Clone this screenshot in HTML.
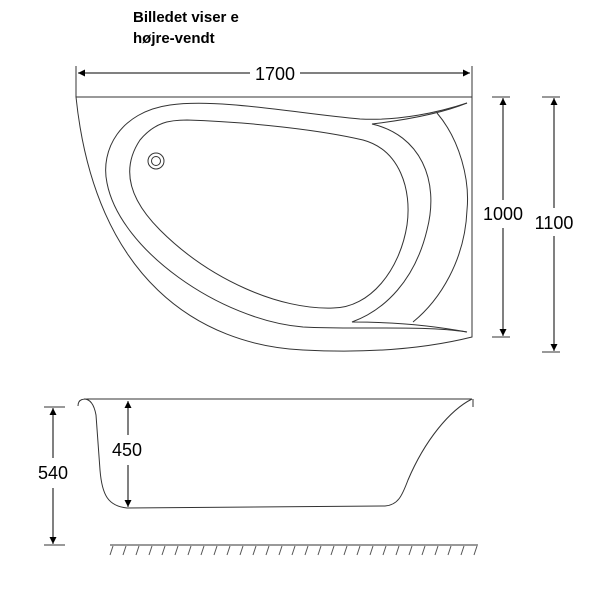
<!DOCTYPE html>
<html><head><meta charset="utf-8"><style>
html,body{margin:0;padding:0;background:#fff;}
svg{display:block;}
</style></head><body>
<svg width="600" height="600" viewBox="0 0 600 600" xmlns="http://www.w3.org/2000/svg" font-family="Liberation Sans, Arial, sans-serif">
<defs>
<marker id="a" viewBox="0 0 10 10" refX="10" refY="5" markerWidth="16" markerHeight="7" markerUnits="userSpaceOnUse" orient="auto-start-reverse"><path d="M0,0L10,5L0,10z" fill="#000"/></marker>
</defs>
<text x="133" y="22" font-size="15" font-weight="bold">Billedet viser e</text>
<text x="133" y="43" font-size="15" font-weight="bold">højre-vendt</text>

<g fill="none" stroke="#333" stroke-width="1">
<line x1="76" y1="66" x2="76" y2="97"/><line x1="472" y1="66" x2="472" y2="97"/>
<line x1="78" y1="73" x2="250" y2="73" stroke="#000" marker-start="url(#a)"/>
<line x1="300" y1="73" x2="470" y2="73" stroke="#000" marker-end="url(#a)"/>
<line x1="492" y1="97" x2="510" y2="97"/><line x1="492" y1="337" x2="510" y2="337"/>
<line x1="503" y1="98" x2="503" y2="200" stroke="#000" marker-start="url(#a)"/>
<line x1="503" y1="228" x2="503" y2="336" stroke="#000" marker-end="url(#a)"/>
<line x1="542" y1="97" x2="560" y2="97"/><line x1="542" y1="352" x2="560" y2="352"/>
<line x1="554" y1="98" x2="554" y2="208" stroke="#000" marker-start="url(#a)"/>
<line x1="554" y1="236" x2="554" y2="351" stroke="#000" marker-end="url(#a)"/>

<path d="M76,97 L472,97 L472,337 Q400,355 303,350 C200,345 95,280 76,97 Z"/>
<path d="M467,103 C440,112 400,121 360,119 C300,114 220,98 170,105 C120,112 100,150 107,183 C120,250 220,320 303,327 C360,330 420,325 467,332"/>
<path d="M467,103 C440,114 405,120 372,124 C420,135 440,180 427,230 C415,280 385,310 352,322 C390,322 430,325 467,332"/>
<path d="M437,113 C460,140 470,180 467,210 C465,260 440,300 413,322"/>
<path d="M187,120 C250,122 320,130 363,140 C400,150 412,190 407,225 C400,270 370,308 333,308 C280,310 210,280 160,230 C130,200 120,170 140,140 C155,122 170,120 187,120 Z"/>
<circle cx="156" cy="161" r="8"/><circle cx="156" cy="161" r="4.5"/>

<path d="M78,406 C78,398 85,399 90,399 L472,399 C450,410 425,440 408,480 C402,496 398,505 385,506 L127,508 C108,506 102,495 100,470 L96,415 C94,404 90,399 84,399"/>
<line x1="473" y1="399" x2="473" y2="407"/>
<line x1="128" y1="401" x2="128" y2="435" stroke="#000" marker-start="url(#a)"/>
<line x1="128" y1="465" x2="128" y2="507" stroke="#000" marker-end="url(#a)"/>
<line x1="44" y1="407" x2="65" y2="407"/><line x1="44" y1="545" x2="65" y2="545"/>
<line x1="53" y1="408" x2="53" y2="458" stroke="#000" marker-start="url(#a)"/>
<line x1="53" y1="488" x2="53" y2="544" stroke="#000" marker-end="url(#a)"/>
<line x1="110" y1="545" x2="478" y2="545"/>
<path stroke="#555" d="M113,546l-3,9 M126,546l-3,9 M139,546l-3,9 M152,546l-3,9 M165,546l-3,9 M178,546l-3,9 M191,546l-3,9 M204,546l-3,9 M217,546l-3,9 M230,546l-3,9 M243,546l-3,9 M256,546l-3,9 M269,546l-3,9 M282,546l-3,9 M295,546l-3,9 M308,546l-3,9 M321,546l-3,9 M334,546l-3,9 M347,546l-3,9 M360,546l-3,9 M373,546l-3,9 M386,546l-3,9 M399,546l-3,9 M412,546l-3,9 M425,546l-3,9 M438,546l-3,9 M451,546l-3,9 M464,546l-3,9 M477,546l-3,9"/>
</g>
<g font-size="18" text-anchor="middle" fill="#000">
<text x="275" y="80">1700</text>
<text x="503" y="220">1000</text>
<text x="554" y="229">1100</text>
<text x="127" y="456">450</text>
<text x="53" y="479">540</text>
</g>
</svg>
</body></html>
